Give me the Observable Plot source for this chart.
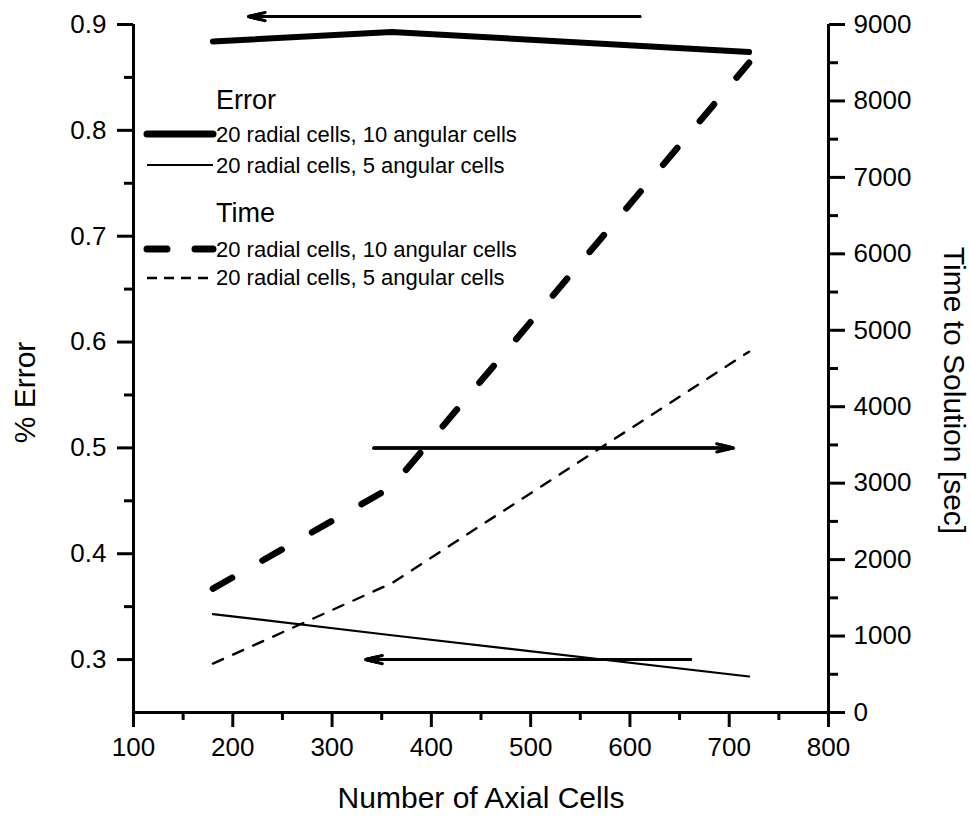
<!DOCTYPE html>
<html>
<head>
<meta charset="utf-8">
<script src="https://cdn.jsdelivr.net/npm/d3@7"></script>
<script src="https://cdn.jsdelivr.net/npm/@observablehq/plot@0.6"></script>
<style>
  html, body { margin: 0; padding: 0; background: #fff; }
  svg { font-family: "Liberation Sans", Arial, sans-serif; }
</style>
</head>
<body>
<div id="chart"></div>
<script>
// ---- data ----
const axialCells = [180, 360, 720];
const error10 = [0.884, 0.893, 0.874];   // % Error, 20 radial / 10 angular
const error5  = [0.343, 0.323, 0.284];   // % Error, 20 radial / 5 angular
const time10  = [1620, 2950, 8500];      // Time [sec], 20 radial / 10 angular
const time5   = [640, 1690, 4720];       // Time [sec], 20 radial / 5 angular

const xTicks = [100, 200, 300, 400, 500, 600, 700, 800];
const xMinor = [150, 250, 350, 450, 550, 650, 750];
const errTicks = [0.3, 0.4, 0.5, 0.6, 0.7, 0.8, 0.9];
const errMinor = [0.35, 0.45, 0.55, 0.65, 0.75, 0.85];
const timeTicks = [0, 1000, 2000, 3000, 4000, 5000, 6000, 7000, 8000, 9000];
const timeMinor = [500, 1500, 2500, 3500, 4500, 5500, 6500, 7500, 8500];

const errDomain = [0.25, 0.9];
const timeDomain = [0, 9000];

// annotation arrows (x from, x to, at % Error level)
const arrowFrom = [610, 342, 661];
const arrowTo   = [216, 704, 334];
const arrowAt   = [0.9075, 0.5, 0.3];

const legendTitles = ["Error", "Time"];
const legendLabels = ["20 radial cells, 10 angular cells", "20 radial cells, 5 angular cells"];

const xLabel = "Number of Axial Cells";
const yLabel = "% Error";
const y2Label = "Time to Solution [sec]";

// ---- build ----
const timeToErr = d3.scaleLinear().domain(timeDomain).range(errDomain);
const mk = (ys) => axialCells.map((x, i) => ({x, y: ys[i]}));
const sErr10 = mk(error10);
const sErr5 = mk(error5);
const sTime10 = mk(time10.map(timeToErr));
const sTime5 = mk(time5.map(timeToErr));
const arrows = arrowFrom.map((x1, i) => ({x1, x2: arrowTo[i], y: arrowAt[i]}));

const W = 971, H = 821;
const FS = 26;
const arrowOpts = {x1: "x1", x2: "x2", y1: "y", y2: "y", stroke: "#000", strokeWidth: 3, headAngle: 28, bend: false};

const chart = Plot.plot({
  width: W,
  height: H,
  marginTop: 24,
  marginBottom: 109,
  marginLeft: 133,
  marginRight: 143,
  style: {fontFamily: '"Liberation Sans", Arial, sans-serif', fontSize: FS + "px", color: "#000", background: "#fff"},
  x: {domain: [100, 800], label: null},
  y: {domain: errDomain, label: null},
  marks: [
    // axes lines
    Plot.ruleY([errDomain[0]], {stroke: "#000", strokeWidth: 3}),
    Plot.ruleX([100, 800], {stroke: "#000", strokeWidth: 3}),
    // bottom axis
    Plot.axisX({ticks: xTicks, tickSize: 15, tickPadding: 10, fontSize: FS, strokeWidth: 3, label: null, tickFormat: d3.format("d")}),
    Plot.axisX({ticks: xMinor, tickSize: 8, strokeWidth: 3, label: null, tickFormat: () => ""}),
    // left axis
    Plot.axisY({ticks: errTicks, tickSize: 16, tickPadding: 11, fontSize: FS, strokeWidth: 3, label: null, tickFormat: d3.format(".1f")}),
    Plot.axisY({ticks: errMinor, tickSize: 9, strokeWidth: 3, label: null, tickFormat: () => ""}),
    // right axis (time)
    Plot.axisY({anchor: "right", ticks: timeTicks.map(timeToErr), tickSize: 16, tickPadding: 9, fontSize: FS, strokeWidth: 3, label: null,
      tickFormat: v => d3.format("d")(Math.round(timeToErr.invert(v)))}),
    Plot.axisY({anchor: "right", ticks: timeMinor.map(timeToErr), tickSize: 9, strokeWidth: 3, label: null, tickFormat: () => ""}),
    // series
    Plot.line(sErr10, {x: "x", y: "y", stroke: "#000", strokeWidth: 6, strokeLinecap: "round", strokeLinejoin: "round"}),
    Plot.line(sErr5, {x: "x", y: "y", stroke: "#000", strokeWidth: 2.2}),
    Plot.line(sTime10, {x: "x", y: "y", stroke: "#000", strokeWidth: 6.5, strokeLinecap: "round", strokeDasharray: "22,35"}),
    Plot.line(sTime5, {x: "x", y: "y", stroke: "#000", strokeWidth: 2.4, strokeDasharray: "11,11"}),
    // arrows (stacked heads give a filled look); headLength is relative to stroke width
    Plot.arrow(arrows, {...arrowOpts, headLength: 8.5}),
    Plot.arrow(arrows, {...arrowOpts, headLength: 6}),
    Plot.arrow(arrows, {...arrowOpts, headLength: 3.5}),
    // axis titles
    Plot.text([xLabel], {frameAnchor: "bottom", dy: 95, fontSize: 30, fill: "#000", textAnchor: "middle"}),
    Plot.text([yLabel], {frameAnchor: "left", dx: -108, dy: 24, rotate: -90, fontSize: 30, fill: "#000", textAnchor: "middle"}),
    Plot.text([y2Label], {frameAnchor: "right", dx: 125, dy: 22, rotate: 90, fontSize: 30, fill: "#000", textAnchor: "middle"})
  ]
});

document.getElementById("chart").appendChild(chart);

// ---- legend (inside plot area) ----
const svg = d3.select(chart);
const lg = svg.append("g")
  .attr("font-family", '"Liberation Sans", Arial, sans-serif')
  .attr("text-anchor", "start")
  .attr("fill", "#000");
const lineX0 = 147, lineX1 = 213, textX = 216;
const styles = [
  {w: 7, dash: null, cap: "round"},
  {w: 2.2, dash: null, cap: "butt"},
  {w: 7, dash: "20,28", cap: "round"},
  {w: 2.4, dash: "10,7", cap: "butt"}
];
const titleY = [109, 222];
const rowLineY = [134, 165, 249, 278];
const rowTextY = [142, 173, 257, 285];
legendTitles.forEach((t, i) => {
  lg.append("text").attr("x", textX).attr("y", titleY[i]).attr("font-size", 27).attr("text-anchor", "start").text(t);
});
for (let g = 0; g < 2; g++) {
  for (let j = 0; j < 2; j++) {
    const k = g * 2 + j;
    const st = styles[k];
    const ln = lg.append("line")
      .attr("x1", lineX0).attr("x2", lineX1)
      .attr("y1", rowLineY[k]).attr("y2", rowLineY[k])
      .attr("stroke", "#000").attr("stroke-width", st.w).attr("stroke-linecap", st.cap);
    if (st.dash) ln.attr("stroke-dasharray", st.dash);
    lg.append("text").attr("x", textX).attr("y", rowTextY[k]).attr("font-size", 22).attr("text-anchor", "start").text(legendLabels[j]);
  }
}
</script>
</body>
</html>
